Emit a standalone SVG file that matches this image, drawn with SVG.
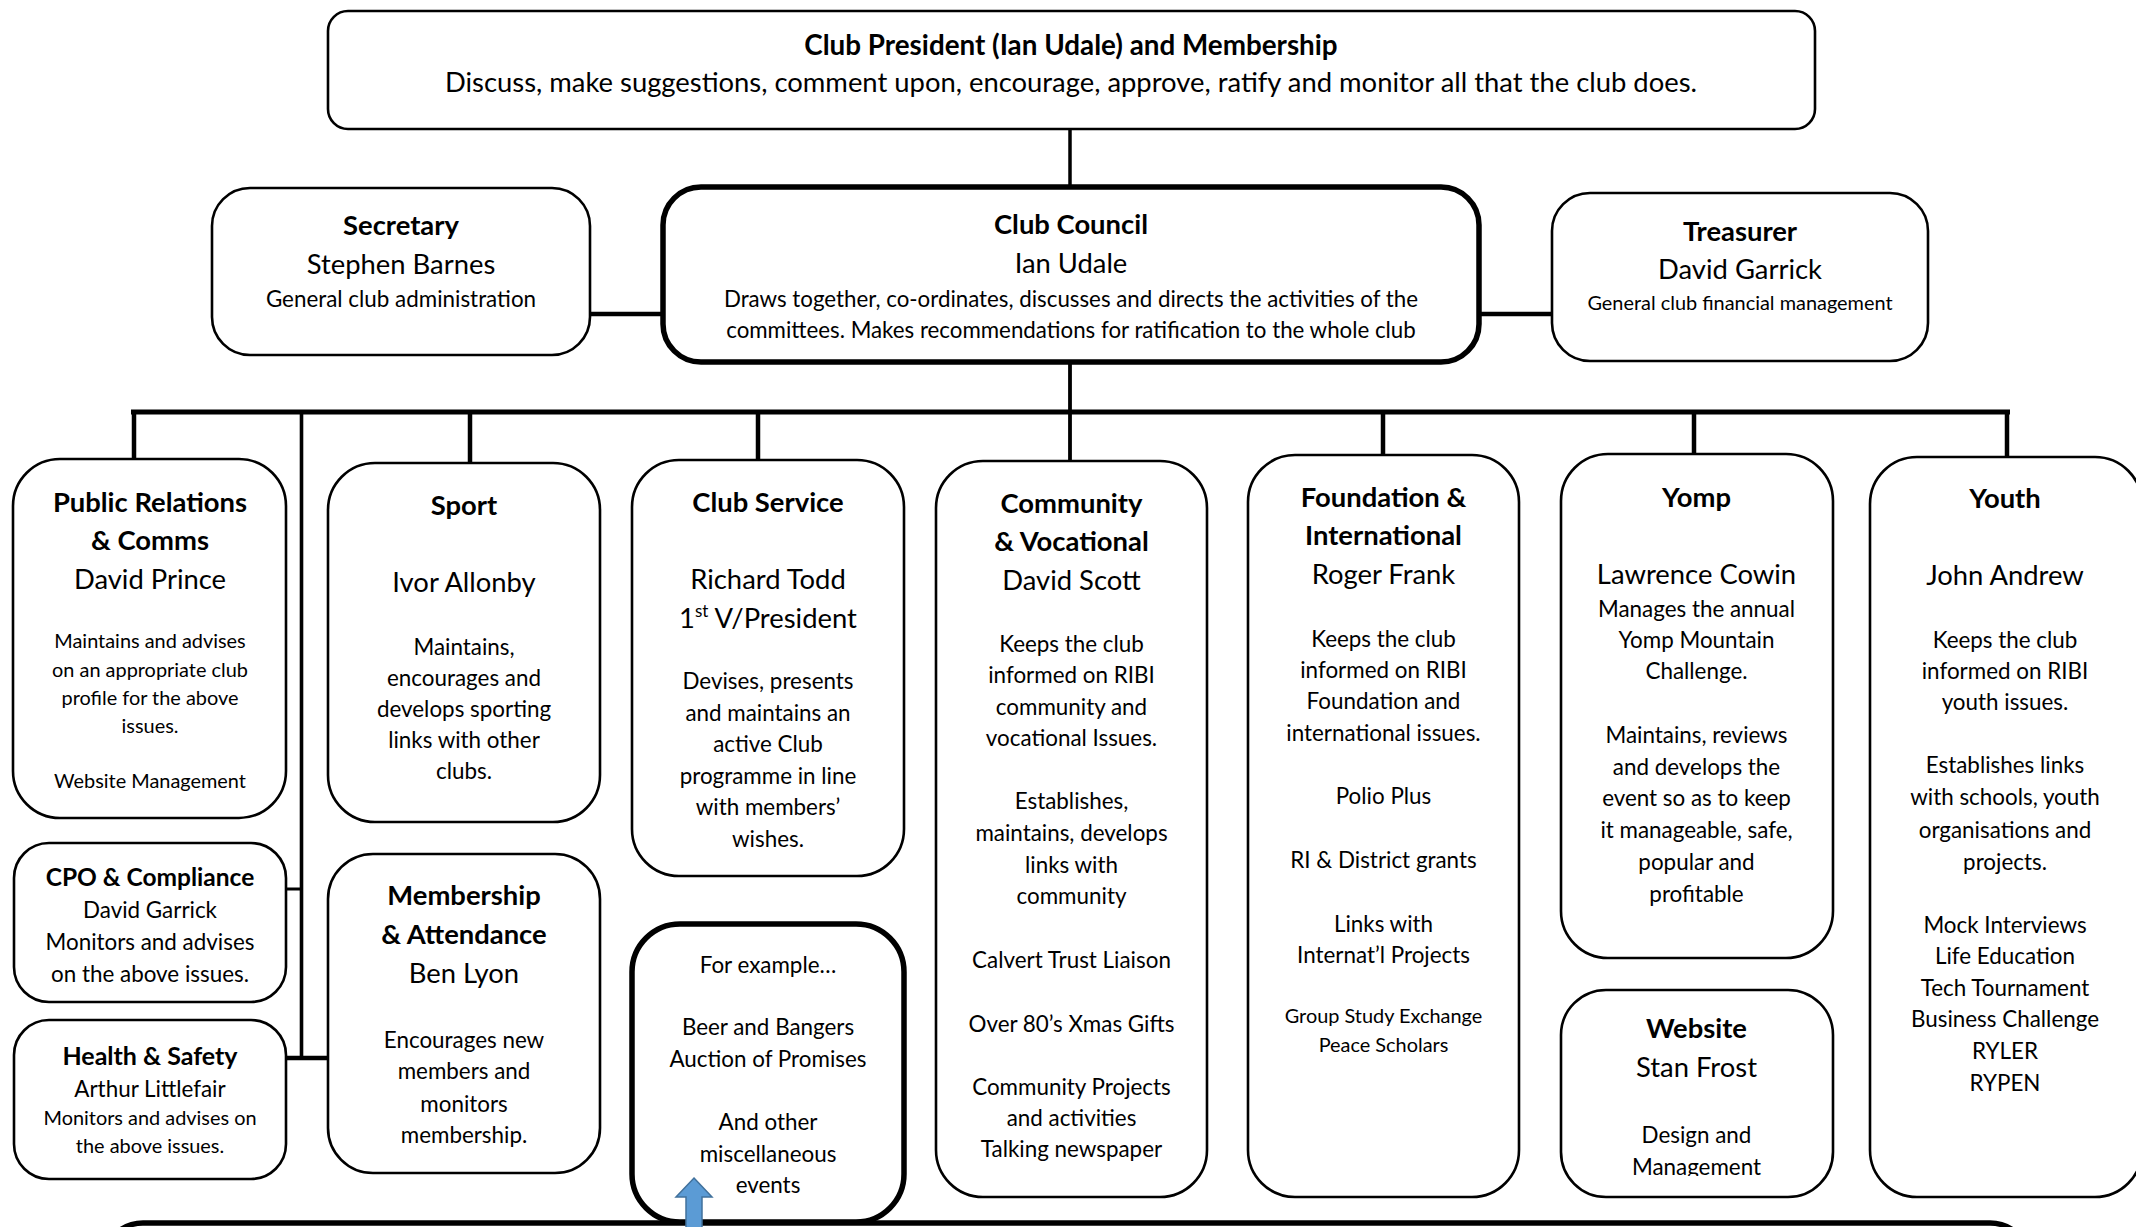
<svg xmlns="http://www.w3.org/2000/svg" width="2136" height="1227" viewBox="0 0 2136 1227">
<style>
.bx{fill:#fff;stroke:#000;stroke-width:2.6}
.tk{stroke-width:5.5}
.ln{stroke:#000;fill:none}
text{font-family:Lato,"Liberation Sans",sans-serif;text-anchor:middle;fill:#000}
.b{font-weight:bold}
.s29{font-size:27.4px}
.s27{font-size:25px}
.s24{font-size:22.4px}
.s22{font-size:22.3px}
.s21{font-size:19.9px}
</style>
<defs>
<clipPath id="webclip"><rect x="1561" y="990" width="272" height="186"/></clipPath>
</defs>
<rect width="2136" height="1227" fill="#fff"/>

<g id="connectors">
<line class="ln" x1="1070" y1="129" x2="1070" y2="187" stroke-width="3.5"/>
<line class="ln" x1="1070" y1="362" x2="1070" y2="461" stroke-width="3.8"/>
<line class="ln" x1="590" y1="314" x2="663" y2="314" stroke-width="4.5"/>
<line class="ln" x1="1479" y1="314" x2="1552" y2="314" stroke-width="4.5"/>
<line class="ln" x1="131" y1="412" x2="2010" y2="412" stroke-width="5"/>
<line class="ln" x1="134" y1="412" x2="134" y2="459" stroke-width="4.5"/>
<line class="ln" x1="470" y1="412" x2="470" y2="463" stroke-width="4.5"/>
<line class="ln" x1="758" y1="412" x2="758" y2="460" stroke-width="4.5"/>
<line class="ln" x1="1383" y1="412" x2="1383" y2="455" stroke-width="4.5"/>
<line class="ln" x1="1694" y1="412" x2="1694" y2="454" stroke-width="4.5"/>
<line class="ln" x1="2007" y1="412" x2="2007" y2="457" stroke-width="4.5"/>
<line class="ln" x1="301.5" y1="412" x2="301.5" y2="1060" stroke-width="3.6"/>
<line class="ln" x1="286" y1="889" x2="301.5" y2="889" stroke-width="3"/>
<line class="ln" x1="286" y1="1058" x2="328" y2="1058" stroke-width="4.5"/>
</g>

<g id="president">
<rect class="bx" x="328" y="11" width="1487" height="118" rx="20"/>
<text class="b" font-size="27.8" x="1071" y="55">Club President (Ian Udale) and Membership</text>
<text class="s29" x="1071" y="92">Discuss, make suggestions, comment upon, encourage, approve, ratify and monitor all that the club does.</text>
</g>

<g id="secretary">
<rect class="bx" x="212" y="188" width="378" height="167" rx="38"/>
<text class="b s29" x="401" y="235">Secretary</text>
<text class="s29" x="401" y="274">Stephen Barnes</text>
<text class="s24" x="401" y="307">General club administration</text>
</g>

<g id="council">
<rect class="bx tk" x="663" y="187" width="816" height="175" rx="38"/>
<text class="b s29" x="1071" y="234">Club Council</text>
<text class="s29" x="1071" y="273">Ian Udale</text>
<text class="s22" x="1071" y="307">Draws together, co-ordinates, discusses and directs the activities of the</text>
<text class="s22" x="1071" y="338">committees. Makes recommendations for ratification to the whole club</text>
</g>

<g id="treasurer">
<rect class="bx" x="1552" y="193" width="376" height="168" rx="38"/>
<text class="b s29" x="1740" y="241">Treasurer</text>
<text class="s29" x="1740" y="279">David Garrick</text>
<text class="s21" x="1740" y="310">General club financial management</text>
</g>

<g id="public-relations">
<rect class="bx" x="13" y="459" width="273" height="359" rx="47"/>
<text class="b s29" x="150" y="512">Public Relations</text>
<text class="b s29" x="150" y="550">&amp; Comms</text>
<text class="s29" x="150" y="589">David Prince</text>
<text class="s21" x="150" y="648">Maintains and advises</text>
<text class="s21" x="150" y="677">on an appropriate club</text>
<text class="s21" x="150" y="705">profile for the above</text>
<text class="s21" x="150" y="733">issues.</text>
<text class="s21" x="150" y="788">Website Management</text>
</g>

<g id="sport">
<rect class="bx" x="328" y="463" width="272" height="359" rx="47"/>
<text class="b s29" x="464" y="515">Sport</text>
<text class="s29" x="464" y="592">Ivor Allonby</text>
<text class="s24" x="464" y="655">Maintains,</text>
<text class="s24" x="464" y="686">encourages and</text>
<text class="s24" x="464" y="717">develops sporting</text>
<text class="s24" x="464" y="748">links with other</text>
<text class="s24" x="464" y="779">clubs.</text>
</g>

<g id="club-service">
<rect class="bx" x="632" y="460" width="272" height="416" rx="47"/>
<text class="b s29" x="768" y="512">Club Service</text>
<text class="s29" x="768" y="589">Richard Todd</text>
<text class="s29" x="768" y="628">1<tspan font-size="17" dy="-11">st</tspan><tspan dy="11"> V/President</tspan></text>
<text class="s24" x="768" y="689">Devises, presents</text>
<text class="s24" x="768" y="721">and maintains an</text>
<text class="s24" x="768" y="752">active Club</text>
<text class="s24" x="768" y="784">programme in line</text>
<text class="s24" x="768" y="815">with members’</text>
<text class="s24" x="768" y="847">wishes.</text>
</g>

<g id="community">
<rect class="bx" x="936" y="461" width="271" height="736" rx="47"/>
<text class="b s29" x="1071.5" y="513">Community</text>
<text class="b s29" x="1071.5" y="551">&amp; Vocational</text>
<text class="s29" x="1071.5" y="590">David Scott</text>
<text class="s24" x="1071.5" y="652">Keeps the club</text>
<text class="s24" x="1071.5" y="683">informed on RIBI</text>
<text class="s24" x="1071.5" y="715">community and</text>
<text class="s24" x="1071.5" y="746">vocational Issues.</text>
<text class="s24" x="1071.5" y="809">Establishes,</text>
<text class="s24" x="1071.5" y="841">maintains, develops</text>
<text class="s24" x="1071.5" y="873">links with</text>
<text class="s24" x="1071.5" y="904">community</text>
<text class="s24" x="1071.5" y="968">Calvert Trust Liaison</text>
<text class="s24" x="1071.5" y="1032">Over 80’s Xmas Gifts</text>
<text class="s24" x="1071.5" y="1095">Community Projects</text>
<text class="s24" x="1071.5" y="1126">and activities</text>
<text class="s24" x="1071.5" y="1157">Talking newspaper</text>
</g>

<g id="foundation">
<rect class="bx" x="1248" y="455" width="271" height="742" rx="47"/>
<text class="b s29" x="1383.5" y="507">Foundation &amp;</text>
<text class="b s29" x="1383.5" y="545">International</text>
<text class="s29" x="1383.5" y="584">Roger Frank</text>
<text class="s24" x="1383.5" y="647">Keeps the club</text>
<text class="s24" x="1383.5" y="678">informed on RIBI</text>
<text class="s24" x="1383.5" y="709">Foundation and</text>
<text class="s24" x="1383.5" y="741">international issues.</text>
<text class="s24" x="1383.5" y="804">Polio Plus</text>
<text class="s24" x="1383.5" y="868">RI &amp; District grants</text>
<text class="s24" x="1383.5" y="932">Links with</text>
<text class="s24" x="1383.5" y="963">Internat’l Projects</text>
<text class="s21" x="1383.5" y="1023">Group Study Exchange</text>
<text class="s21" x="1383.5" y="1052">Peace Scholars</text>
</g>

<g id="yomp">
<rect class="bx" x="1561" y="454" width="272" height="504" rx="47"/>
<text class="b s29" x="1696.5" y="507">Yomp</text>
<text class="s29" x="1696.5" y="584">Lawrence Cowin</text>
<text class="s24" x="1696.5" y="617">Manages the annual</text>
<text class="s24" x="1696.5" y="648">Yomp Mountain</text>
<text class="s24" x="1696.5" y="679">Challenge.</text>
<text class="s24" x="1696.5" y="743">Maintains, reviews</text>
<text class="s24" x="1696.5" y="775">and develops the</text>
<text class="s24" x="1696.5" y="806">event so as to keep</text>
<text class="s24" x="1696.5" y="838">it manageable, safe,</text>
<text class="s24" x="1696.5" y="870">popular and</text>
<text class="s24" x="1696.5" y="902">profitable</text>
</g>

<g id="youth">
<rect class="bx" x="1870" y="457" width="272" height="740" rx="47"/>
<text class="b s29" x="2005" y="508">Youth</text>
<text class="s29" x="2005" y="585">John Andrew</text>
<text class="s24" x="2005" y="648">Keeps the club</text>
<text class="s24" x="2005" y="679">informed on RIBI</text>
<text class="s24" x="2005" y="710">youth issues.</text>
<text class="s24" x="2005" y="773">Establishes links</text>
<text class="s24" x="2005" y="805">with schools, youth</text>
<text class="s24" x="2005" y="838">organisations and</text>
<text class="s24" x="2005" y="870">projects.</text>
<text class="s24" x="2005" y="933">Mock Interviews</text>
<text class="s24" x="2005" y="964">Life Education</text>
<text class="s24" x="2005" y="996">Tech Tournament</text>
<text class="s24" x="2005" y="1027">Business Challenge</text>
<text class="s24" x="2005" y="1059">RYLER</text>
<text class="s24" x="2005" y="1091">RYPEN</text>
</g>

<g id="website">
<rect class="bx" x="1561" y="990" width="272" height="207" rx="45"/>
<g clip-path="url(#webclip)">
<text class="b s29" x="1696.5" y="1038">Website</text>
<text class="s29" x="1696.5" y="1077">Stan Frost</text>
<text class="s24" x="1696.5" y="1143">Design and</text>
<text class="s24" x="1696.5" y="1175">Management</text>
</g>
</g>

<g id="cpo">
<rect class="bx" x="14" y="843" width="272" height="159" rx="35"/>
<text class="b" font-size="24.5" x="150" y="886">CPO &amp; Compliance</text>
<text class="s24" x="150" y="918">David Garrick</text>
<text class="s24" x="150" y="950">Monitors and advises</text>
<text class="s24" x="150" y="982">on the above issues.</text>
</g>

<g id="health-safety">
<rect class="bx" x="14" y="1020" width="272" height="159" rx="35"/>
<text class="b s27" x="150" y="1065">Health &amp; Safety</text>
<text class="s24" x="150" y="1097">Arthur Littlefair</text>
<text class="s21" x="150" y="1125">Monitors and advises on</text>
<text class="s21" x="150" y="1153">the above issues.</text>
</g>

<g id="membership">
<rect class="bx" x="328" y="854" width="272" height="319" rx="45"/>
<text class="b s29" x="464" y="905">Membership</text>
<text class="b s29" x="464" y="944">&amp; Attendance</text>
<text class="s29" x="464" y="983">Ben Lyon</text>
<text class="s24" x="464" y="1048">Encourages new</text>
<text class="s24" x="464" y="1079">members and</text>
<text class="s24" x="464" y="1112">monitors</text>
<text class="s24" x="464" y="1143">membership.</text>
</g>

<g id="examples">
<rect class="bx tk" x="632" y="924" width="272" height="298" rx="48"/>
<text class="s24" x="768" y="973">For example…</text>
<text class="s24" x="768" y="1035">Beer and Bangers</text>
<text class="s24" x="768" y="1067">Auction of Promises</text>
<text class="s24" x="768" y="1130">And other</text>
<text class="s24" x="768" y="1162">miscellaneous</text>
<text class="s24" x="768" y="1193">events</text>
</g>

<g id="bottom-box">
<rect class="bx tk" x="103" y="1223" width="1927" height="200" rx="40"/>
</g>

<g id="arrow">
<polygon points="694,1178 712,1197 702,1197 702,1232 686,1232 686,1197 676,1197" fill="#5B9BD5" stroke="#41719C" stroke-width="1.5"/>
</g>
</svg>
